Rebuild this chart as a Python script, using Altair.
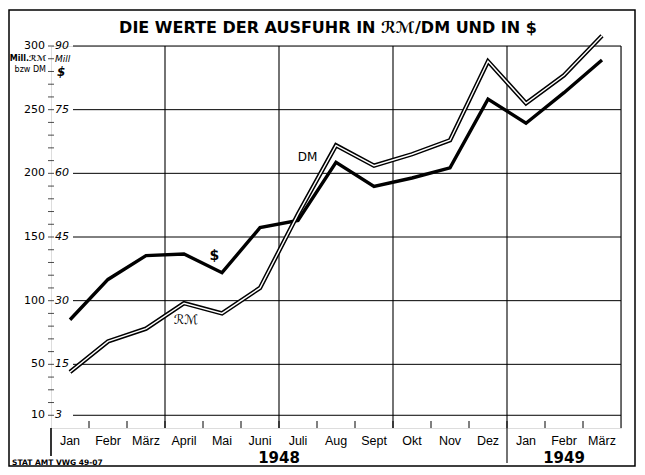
import altair as alt
import pandas as pd

# ---------------- data ----------------
months = ["Jan", "Febr", "März", "April", "Mai", "Juni", "Juli", "Aug", "Sept",
          "Okt", "Nov", "Dez", "Jan", "Febr", "März"]
rm_dm = [44, 68, 78, 98, 90, 110, 168, 222, 206, 215, 226, 288, 255, 277, 308]   # Mill RM / DM
usd = [25.5, 35.0, 40.6, 41.0, 36.6, 47.2, 48.9, 62.6, 56.9, 58.9, 61.3, 77.5, 71.8, 79.0, 86.7]  # Mill $
rm_ticks = [10, 50, 100, 150, 200, 250, 300]
usd_ticks = [3, 15, 30, 45, 60, 75, 90]
minor_ticks = list(range(10, 301, 10))
quarter_lines = [3, 6, 9, 12, 15]
month_bounds = list(range(1, 15))
years = ["1948", "1949"]
year_months = [12, 3]
label_text = ["DM", "$", "ℛℳ"]
label_x = [6.75, 4.30, 3.55]
label_y = [213, 135, 85]

USD_FACTOR = 300 / 90

df = pd.DataFrame({"i": list(range(len(months))), "month": months, "rm": rm_dm, "usd": usd})
df["xc"] = df["i"] + 0.5
df["usd_rm"] = df["usd"] * USD_FACTOR

ticks_df = pd.DataFrame({"rm": rm_ticks, "rm_lab": [str(r) for r in rm_ticks],
                         "usd": usd_ticks, "usd_lab": [str(u) for u in usd_ticks]})
ticks_df["usd_rm"] = ticks_df["usd"] * USD_FACTOR
minor_df = pd.DataFrame({"v": minor_ticks})
quarter_df = pd.DataFrame({"q": quarter_lines})
bounds_df = pd.DataFrame({"b": month_bounds})
starts = [0]
for n in year_months[:-1]:
    starts.append(starts[-1] + n)
years_df = pd.DataFrame({"year": years, "xc": [s + n / 2 for s, n in zip(starts, year_months)]})
labels_df = pd.DataFrame({"t": label_text, "x": label_x, "y": label_y})

W, H = 570, 382
FONT = "DejaVu Sans"

xs = alt.Scale(domain=[0, 15], nice=False, zero=False)
ys = alt.Scale(domain=[0, 300], nice=False, zero=False)

# ---------------- layers ----------------
hgrid = alt.Chart(ticks_df).mark_rule(color="black", strokeWidth=1).encode(
    y=alt.Y("rm:Q", scale=ys, axis=None),
    x=alt.value(22), x2=alt.value(W),
)
vgrid = alt.Chart(quarter_df).mark_rule(color="black", strokeWidth=1.1).encode(
    x=alt.X("q:Q", scale=xs, axis=None),
    y=alt.datum(0, scale=ys), y2=alt.datum(300),
)
bticks = alt.Chart(bounds_df).mark_rule(color="black", strokeWidth=1).encode(
    x=alt.X("b:Q", scale=xs, axis=None),
    y=alt.datum(0, scale=ys), y2=alt.datum(5.5),
)
mticks = alt.Chart(minor_df).mark_tick(color="black", size=6, thickness=1).encode(
    y=alt.Y("v:Q", scale=ys, axis=None),
    x=alt.value(0),
)
yext = alt.Chart(pd.DataFrame({"p": [0]})).mark_rule(color="black", strokeWidth=1.6).encode(
    x=alt.X("p:Q", scale=xs, axis=None), y=alt.value(H), y2=alt.value(H + 28))
sep = alt.Chart(pd.DataFrame({"p": [starts[1]]})).mark_rule(color="black", strokeWidth=1.1).encode(
    x=alt.X("p:Q", scale=xs, axis=None), y=alt.value(H), y2=alt.value(H + 35))

usd_line = alt.Chart(df).mark_line(color="black", strokeWidth=3.4, strokeJoin="miter").encode(
    x=alt.X("xc:Q", scale=xs, axis=None),
    y=alt.Y("usd_rm:Q", scale=ys, axis=None),
)
dm_outer = alt.Chart(df).mark_line(color="black", strokeWidth=4.4, strokeJoin="miter").encode(
    x=alt.X("xc:Q", scale=xs,
            axis=alt.Axis(values=month_bounds, labels=False, title=None, grid=False,
                          domainColor="black", domainWidth=2.6, tickColor="black",
                          tickWidth=0.8, tickSize=18)),
    y=alt.Y("rm:Q", scale=ys,
            axis=alt.Axis(values=rm_ticks, labels=False, title=None, grid=False, ticks=False,
                          domainColor="black", domainWidth=1.6)),
)
dm_inner = alt.Chart(df).mark_line(color="white", strokeWidth=1.4, strokeJoin="miter").encode(
    x=alt.X("xc:Q", scale=xs, axis=None),
    y=alt.Y("rm:Q", scale=ys, axis=None),
)

rm_labels = alt.Chart(ticks_df).mark_text(
    align="right", baseline="middle", font=FONT, fontSize=11, color="black", dx=-6
).encode(
    y=alt.Y("rm:Q", scale=ys, axis=None), x=alt.value(0), text="rm_lab:N"
)
usd_labels = alt.Chart(ticks_df).mark_text(
    align="left", baseline="middle", font=FONT, fontSize=11, fontStyle="italic", dx=4
).encode(
    y=alt.Y("usd_rm:Q", scale=ys, axis=None), x=alt.value(0), text="usd_lab:N"
)

month_text = alt.Chart(df).mark_text(
    baseline="middle", font="Liberation Sans", fontSize=12.5, color="black"
).encode(
    x=alt.X("xc:Q", scale=xs, axis=None), y=alt.value(H + 13), text="month:N"
)
year_text = alt.Chart(years_df).mark_text(
    baseline="middle", font=FONT, fontSize=15, fontWeight="bold", color="black"
).encode(
    x=alt.X("xc:Q", scale=xs, axis=None), y=alt.value(H + 30), text="year:N"
)

dm_lab = alt.Chart(labels_df).transform_filter(alt.datum.t == "DM").mark_text(
    baseline="middle", font=FONT, fontSize=12, color="black"
).encode(x=alt.X("x:Q", scale=xs, axis=None), y=alt.Y("y:Q", scale=ys, axis=None), text="t:N")
usd_lab = alt.Chart(labels_df).transform_filter(alt.datum.t == "$").mark_text(
    baseline="middle", font=FONT, fontSize=14, fontWeight="bold", color="black"
).encode(x=alt.X("x:Q", scale=xs, axis=None), y=alt.Y("y:Q", scale=ys, axis=None), text="t:N")
rm_lab = alt.Chart(labels_df).transform_filter(alt.datum.t == "ℛℳ").mark_text(
    baseline="middle", font=FONT, fontSize=13, fontStyle="italic", color="black"
).encode(x=alt.X("x:Q", scale=xs, axis=None), y=alt.Y("y:Q", scale=ys, axis=None), text="t:N")

deco = pd.DataFrame({"t": [0]})
title = alt.Chart(deco).mark_text(
    text="DIE WERTE  DER AUSFUHR IN ℛℳ/DM UND IN $", align="center", baseline="middle",
    font=FONT, fontSize=16, fontWeight="bold", color="black"
).encode(x=alt.value(277), y=alt.value(-18))
hdr1 = alt.Chart(deco).mark_text(
    text="Mill.ℛℳ", align="right", baseline="middle", font=FONT, fontSize=8, fontWeight="bold"
).encode(x=alt.value(-5), y=alt.value(13))
hdr2 = alt.Chart(deco).mark_text(
    text="bzw DM", align="right", baseline="middle", font=FONT, fontSize=8
).encode(x=alt.value(-5), y=alt.value(24))
hdr3 = alt.Chart(deco).mark_text(
    text="Mill", align="left", baseline="middle", font=FONT, fontSize=9, fontStyle="italic"
).encode(x=alt.value(4), y=alt.value(13))
hdr4 = alt.Chart(deco).mark_text(
    text="$", align="left", baseline="middle", font=FONT, fontSize=12, fontStyle="italic",
    fontWeight="bold"
).encode(x=alt.value(6), y=alt.value(26))
footer = alt.Chart(deco).mark_text(
    text="STAT AMT VWG 49-07", align="left", baseline="middle", font=FONT, fontSize=7.5,
    fontWeight="bold"
).encode(x=alt.value(-39), y=alt.value(H + 35))
border = alt.Chart(deco).mark_rect(fill=None, stroke="black", strokeWidth=1.5).encode(
    x=alt.value(-42), x2=alt.value(W + 14), y=alt.value(-36), y2=alt.value(H + 38)
)

chart = alt.layer(
    dm_outer, hgrid, vgrid, bticks, mticks, yext, sep, usd_line, dm_inner,
    rm_labels, usd_labels, month_text, year_text, dm_lab, usd_lab, rm_lab,
    title, hdr1, hdr2, hdr3, hdr4, footer, border,
).properties(
    width=W, height=H,
    autosize=alt.AutoSizeParams(type="none"),
    padding={"left": 43, "top": 38, "right": 16, "bottom": 39},
).configure_view(stroke=None).configure(background="white")

chart.save("out.html", embed_options={"renderer": "svg", "actions": False})
